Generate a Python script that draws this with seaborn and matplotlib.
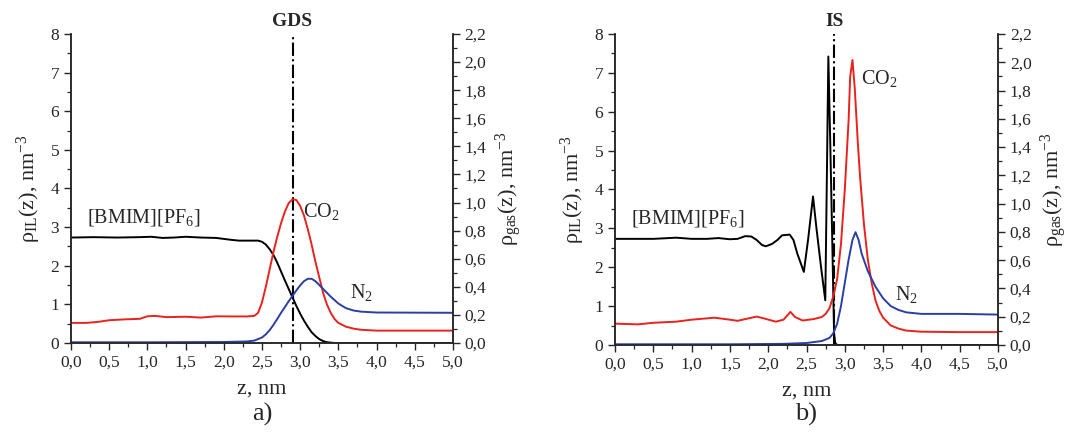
import numpy as np
import pandas as pd
import seaborn as sns
import matplotlib
matplotlib.use('Agg')
import matplotlib.pyplot as plt
from matplotlib.ticker import MultipleLocator, FuncFormatter

# ---- panel a) GDS ----
z_il_a = [0.0, 0.3, 0.6, 0.9, 1.05, 1.2, 1.35, 1.5, 1.7, 1.9, 2.1, 2.2, 2.45, 2.5, 2.55, 2.6, 2.65,
          2.7, 2.75, 2.8, 2.85, 2.9, 2.95, 3.0, 3.05, 3.1, 3.15, 3.2, 3.25, 3.3, 3.35, 3.45, 5.0]
il_a = [2.73, 2.74, 2.73, 2.74, 2.75, 2.72, 2.73, 2.75, 2.73, 2.72, 2.67, 2.65, 2.65, 2.62, 2.55, 2.43, 2.28,
        2.08, 1.85, 1.62, 1.4, 1.18, 0.96, 0.76, 0.58, 0.42, 0.28, 0.18, 0.1, 0.05, 0.02, 0.0, 0.0]

z_co2_a = [0.0, 0.2, 0.35, 0.5, 0.7, 0.9, 1.0, 1.1, 1.25, 1.5, 1.7, 1.9, 2.1, 2.3, 2.4, 2.45, 2.5, 2.55,
           2.6, 2.65, 2.7, 2.75, 2.8, 2.85, 2.9, 2.95, 3.0, 3.05, 3.1, 3.15, 3.2, 3.25, 3.3, 3.35, 3.4,
           3.45, 3.5, 3.6, 3.7, 3.8, 4.0, 4.5, 5.0]
co2_a = [0.143, 0.143, 0.150, 0.162, 0.168, 0.172, 0.190, 0.193, 0.184, 0.187, 0.181, 0.190, 0.189, 0.189,
         0.193, 0.215, 0.289, 0.399, 0.523, 0.646, 0.756, 0.853, 0.935, 0.996, 1.023, 1.018, 0.976, 0.908,
         0.811, 0.701, 0.578, 0.468, 0.358, 0.275, 0.215, 0.171, 0.143, 0.116, 0.102, 0.094, 0.088, 0.088,
         0.088]

z_n2_a = [0.0, 1.0, 2.0, 2.3, 2.4, 2.5, 2.55, 2.6, 2.65, 2.7, 2.75, 2.8, 2.85, 2.9, 2.95, 3.0, 3.05, 3.1,
          3.15, 3.2, 3.25, 3.3, 3.4, 3.5, 3.6, 3.7, 3.8, 4.0, 4.5, 5.0]
n2_a = [0.005, 0.005, 0.007, 0.011, 0.017, 0.039, 0.061, 0.091, 0.129, 0.171, 0.215, 0.256, 0.297, 0.336,
        0.374, 0.410, 0.440, 0.457, 0.457, 0.440, 0.413, 0.385, 0.330, 0.281, 0.248, 0.231, 0.223, 0.217,
        0.216, 0.215]

# ---- panel b) IS ----
z_il_b = [0.0, 0.3, 0.5, 0.8, 1.0, 1.2, 1.35, 1.5, 1.6, 1.7, 1.78, 1.85, 1.92, 1.97, 2.05, 2.12, 2.18,
          2.28, 2.33, 2.38, 2.465, 2.52, 2.585, 2.63, 2.69, 2.745, 2.765, 2.785, 2.81, 2.835, 2.86, 2.875,
          2.9, 5.0]
il_b = [2.73, 2.73, 2.73, 2.76, 2.73, 2.73, 2.75, 2.72, 2.73, 2.8, 2.79, 2.7, 2.57, 2.54, 2.6, 2.7, 2.82,
        2.84, 2.7, 2.35, 1.88, 2.7, 3.82, 3.0, 2.0, 1.15, 4.2, 7.42, 5.2, 2.8, 0.3, 0.05, 0.0, 0.0]

z_co2_b = [0.0, 0.3, 0.5, 0.8, 1.0, 1.3, 1.5, 1.6, 1.85, 1.95, 2.1, 2.2, 2.29, 2.35, 2.45, 2.6, 2.7, 2.75,
           2.8, 2.85, 2.9, 2.95, 3.0, 3.05, 3.07, 3.1, 3.13, 3.17, 3.2, 3.25, 3.3, 3.35, 3.4, 3.45, 3.5,
           3.6, 3.7, 3.8, 4.0, 4.5, 5.0]
co2_b = [0.151, 0.146, 0.157, 0.165, 0.179, 0.193, 0.179, 0.171, 0.201, 0.187, 0.165, 0.179, 0.234, 0.198,
         0.173, 0.184, 0.198, 0.220, 0.261, 0.344, 0.468, 0.715, 1.100, 1.595, 1.898, 2.016, 1.815, 1.430,
         1.183, 0.853, 0.605, 0.440, 0.316, 0.242, 0.193, 0.138, 0.116, 0.102, 0.094, 0.091, 0.091]

z_n2_b = [0.0, 1.5, 2.2, 2.5, 2.7, 2.8, 2.85, 2.9, 2.95, 3.0, 3.05, 3.1, 3.14, 3.18, 3.22, 3.3, 3.4, 3.5,
          3.6, 3.7, 3.8, 4.0, 4.5, 5.0]
n2_b = [0.005, 0.005, 0.008, 0.014, 0.028, 0.050, 0.083, 0.151, 0.275, 0.440, 0.605, 0.743, 0.798, 0.743,
        0.646, 0.523, 0.413, 0.330, 0.275, 0.248, 0.231, 0.220, 0.220, 0.215]

sns.set_style('ticks')
plt.rcParams['font.family'] = ['Liberation Serif', 'DejaVu Serif']
plt.rcParams['mathtext.fontset'] = 'custom'
plt.rcParams['mathtext.rm'] = 'Liberation Serif'
plt.rcParams['mathtext.it'] = 'Liberation Serif:italic'
plt.rcParams['axes.linewidth'] = 1.1

comma = FuncFormatter(lambda v, p: f'{v:.1f}'.replace('.', ','))
intfmt = FuncFormatter(lambda v, p: f'{v:.0f}')


def panel(rect, il, co2, n2, zline, tag, letter, co2_pos, bmim_pos, n2_pos):
    ax = fig.add_axes(rect)
    ax2 = ax.twinx()
    sns.lineplot(x=il[0], y=il[1], ax=ax, color='black', lw=1.4, sort=False)
    sns.lineplot(x=co2[0], y=co2[1], ax=ax2, color='#e8231e', lw=1.4, sort=False)
    sns.lineplot(x=n2[0], y=n2[1], ax=ax2, color='#2a3fa6', lw=1.4, sort=False)
    ax.axvline(zline, color='black', lw=1.5, ls='-.')

    ax.set_xlim(0, 5)
    ax.set_ylim(0, 8)
    ax2.set_ylim(0, 2.2)
    ax.xaxis.set_major_locator(MultipleLocator(0.5))
    ax.xaxis.set_minor_locator(MultipleLocator(0.25))
    ax.yaxis.set_major_locator(MultipleLocator(1))
    ax.yaxis.set_minor_locator(MultipleLocator(0.5))
    ax2.yaxis.set_major_locator(MultipleLocator(0.2))
    ax2.yaxis.set_minor_locator(MultipleLocator(0.1))
    ax.xaxis.set_major_formatter(comma)
    ax.yaxis.set_major_formatter(intfmt)
    ax2.yaxis.set_major_formatter(comma)
    for a in (ax, ax2):
        a.spines['top'].set_visible(False)
        a.tick_params(which='major', length=5, width=1.0, labelsize=12.5, direction='out')
        a.tick_params(which='minor', length=3, width=0.9, direction='out')
    ax.set_xlabel('z, nm', fontsize=16, labelpad=6)
    ax.set_ylabel('ρ$_{\\mathrm{IL}}$(z), nm$^{-3}$', fontsize=16, labelpad=5)
    ax2.set_ylabel('ρ$_{\\mathrm{gas}}$(z), nm$^{-3}$', fontsize=16, labelpad=5)
    ax.text(zline, 8.1, tag, ha='center', va='bottom', fontsize=14, fontweight='bold')
    ax.text(bmim_pos[0], bmim_pos[1], '[BMIM][PF$_6$]', ha='center', va='center', fontsize=14.5)
    ax.text(co2_pos[0], co2_pos[1], 'CO$_2$', ha='center', va='center', fontsize=14.5)
    ax.text(n2_pos[0], n2_pos[1], 'N$_2$', ha='center', va='center', fontsize=14.5)
    x_mid = rect[0] + rect[2] / 2
    fig.text(x_mid, 0.045, letter, ha='center', va='center', fontsize=19)
    return ax


fig = plt.figure(figsize=(10.69, 4.34), dpi=100)
panel([0.0664, 0.2097, 0.3573, 0.712], (z_il_a, il_a), (z_co2_a, co2_a), (z_n2_a, n2_a),
      2.9, 'GDS', 'a)', (3.28, 3.4), (0.95, 3.25), (3.8, 1.3))
panel([0.5753, 0.2051, 0.3583, 0.7166], (z_il_b, il_b), (z_co2_b, co2_b), (z_n2_b, n2_b),
      2.86, 'IS', 'b)', (3.45, 6.85), (0.95, 3.25), (3.8, 1.3))

fig.savefig('out.png', dpi=100)
